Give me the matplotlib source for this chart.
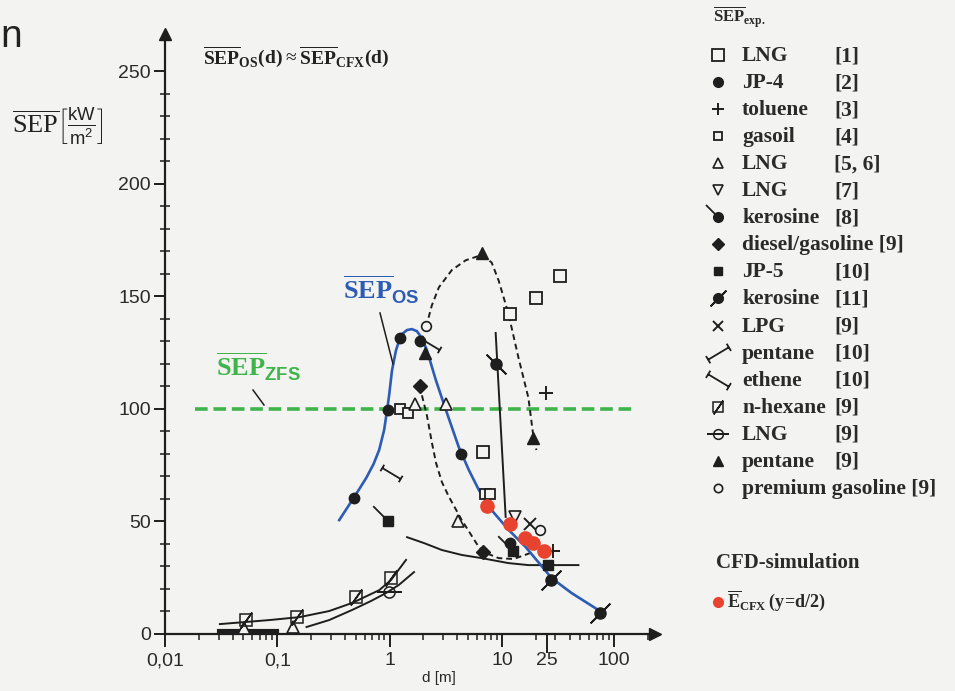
import numpy as np
import matplotlib
matplotlib.use('Agg')
import matplotlib.pyplot as plt
from matplotlib.path import Path
from matplotlib.ticker import FixedLocator, NullFormatter

plt.rcParams['font.family'] = ['Liberation Sans', 'DejaVu Sans']
plt.rcParams['mathtext.fontset'] = 'custom'
plt.rcParams['mathtext.rm'] = 'Liberation Serif'
plt.rcParams['mathtext.bf'] = 'Liberation Serif:bold'
plt.rcParams['mathtext.sf'] = 'Liberation Sans'
plt.rcParams['mathtext.cal'] = 'Liberation Sans:bold'

# ---- data ----
# SEP_OS model curve (blue)
os_d = [0.356, 0.484, 0.619, 0.72, 0.807, 0.894, 0.95, 0.99, 1.05, 1.14, 1.22, 1.29,
        1.43, 1.58, 1.75, 1.94, 2.15, 2.58, 3.17, 4.13, 5.08, 6.23, 8.1, 11.5, 16.3,
        22.9, 27.6, 41.7, 72]
os_sep = [50.6, 60.8, 69.3, 75.5, 81.7, 90.6, 99.5, 106, 117, 126, 130.5, 133.2,
          135, 135.4, 134.5, 131.4, 126, 112.8, 99.5, 83, 72.8, 64, 55, 46.2, 38.6,
          29.8, 24.9, 18.2, 10.7]
# SEP_ZFS (green, constant)
zfs_d = [0.0185, 153]
zfs_sep = [100, 100]
# dashed envelope curves
loop_d = [2.11, 2.38, 2.75, 3.58, 4.77, 6.6, 8.1, 9.35, 11.4, 14.0, 17.2, 19.1, 20.3]
loop_sep = [136.3, 146, 154, 161.6, 166, 168.3, 165, 157, 142.5, 123, 105, 87.5, 81.7]
fall_d = [1.94, 2.15, 2.38, 2.59, 2.92, 3.37, 4.39, 6.23, 7.18, 9.35, 12.7, 18.0]
fall_sep = [106, 97, 85, 76, 67.5, 61, 50.6, 38.6, 36, 33.7, 33.3, 36]
# solid fit curves
flat_d = [1.43, 2.02, 2.92, 4.39, 6.6, 11.4, 17.2, 24.4, 48]
flat_sep = [43, 40.4, 37.3, 35.1, 33.7, 31.5, 30.6, 30.6, 30.6]
vert_d = [8.8, 10.8]
vert_sep = [133.7, 52]
low1_d = [0.0308, 0.0854, 0.158, 0.29, 0.465, 0.81, 1.03, 1.40]
low1_sep = [4.4, 6.2, 7.5, 10.2, 13.8, 19.5, 24, 32.9]
low2_d = [0.182, 0.29, 0.465, 0.686, 0.93, 1.21, 1.65]
low2_sep = [3.1, 6.2, 10.7, 14.7, 18.2, 21.8, 27.5]
base_d = [0.03, 0.1]
base_sep = [1.5, 1.5]

# experimental points
lng1_d, lng1_sep = [33, 20, 11.8, 6.75], [159, 149, 142, 81]
jp4_d, jp4_sep = [0.484, 0.97, 1.25, 1.85, 4.3, 11.8], [60.5, 99.6, 131.5, 130, 80, 40.4]
tol_d, tol_sep = [24.7, 28.5], [107, 37]
gasoil_d, gasoil_sep = [1.25, 1.45, 7.0, 7.8], [100, 98, 62, 62]
lng56_d, lng56_sep = [1.67, 3.16, 4.05, 0.051, 0.137], [102, 102, 50, 2.7, 3.1]
lng7_d, lng7_sep = [13.1], [52]
ker8_d, ker8_sep = [0.96, 12.5], [50, 37]
diesel_d, diesel_sep = [1.85, 6.75], [110, 36.4]
jp5_d, jp5_sep = [25.7], [30.7]
ker11_d, ker11_sep = [8.8, 27.3, 75], [120, 24, 9.3]
lpg_d, lpg_sep = [17.8], [49]
pent10_d, pent10_sep = [2.3, 1.02], [129, 71.5]
hex_d, hex_sep = [0.053, 0.151, 0.505, 1.03], [6.2, 7.5, 16.4, 24.9]
lng9_d, lng9_sep = [0.99], [18.7]
pent9_d, pent9_sep = [2.05, 18.9, 6.6], [125, 87, 169]
prem_d, prem_sep = [2.1, 22], [137, 46]
cfx_d, cfx_sep = [7.35, 11.8, 16.0, 18.9, 23.6], [57, 49, 42.7, 40.4, 37]

x_ticks = [0.01, 0.1, 1, 10, 25, 100]
x_labels = ['0,01', '0,1', '1', '10', '25', '100']
y_ticks = [0, 50, 100, 150, 200, 250]

legend_rows = [('LNG', '[1]'), ('JP-4', '[2]'), ('toluene', '[3]'), ('gasoil', '[4]'),
               ('LNG', '[5, 6]'), ('LNG', '[7]'), ('kerosine', '[8]'),
               ('diesel/gasoline [9]', ''), ('JP-5', '[10]'), ('kerosine', '[11]'),
               ('LPG', '[9]'), ('pentane', '[10]'), ('ethene', '[10]'),
               ('n-hexane', '[9]'), ('LNG', '[9]'), ('pentane', '[9]'),
               ('premium gasoline [9]', '')]

# ---- custom markers ----
def ibeam(slope):
    u = np.array([1.0, slope]); u /= np.linalg.norm(u)
    p = np.array([-u[1], u[0]]) * 0.35
    a, b = -u, u
    verts = [a, b, a - p, a + p, b - p, b + p]
    codes = [Path.MOVETO, Path.LINETO] * 3
    return Path(verts, codes)

tail8 = Path([(0, 0), (-1, 1)], [Path.MOVETO, Path.LINETO])
ink = '#1e1e1e'
bg = '#f3f3f1'
blue = '#2c5cb4'
green = '#3fb44a'
red = '#e8432e'

fig = plt.figure(figsize=(9.55, 6.91), dpi=100, facecolor=bg)
W, H = 955.0, 691.0
ax = fig.add_axes([165 / W, 1 - 634 / H, 490 / W, 594 / H])
ax.set_facecolor('none')
ax.set_xscale('log')
ax.set_xlim(0.01, 10 ** (-2 + 490 / 112.3))
ax.set_ylim(0, 263.8)

# curves
ax.plot(zfs_d, zfs_sep, color=green, lw=2.6, ls=(0, (3.5, 1.6)), zorder=2)
ax.plot(os_d, os_sep, color=blue, lw=1.9, zorder=3)
ax.plot(loop_d, loop_sep, color=ink, lw=1.4, ls=(0, (3, 2)), zorder=2)
ax.plot(fall_d, fall_sep, color=ink, lw=1.4, ls=(0, (3, 2)), zorder=2)
ax.plot(flat_d, flat_sep, color=ink, lw=1.4, zorder=2)
ax.plot(vert_d, vert_sep, color=ink, lw=1.4, zorder=2)
ax.plot(low1_d, low1_sep, color=ink, lw=1.4, zorder=2)
ax.plot(low2_d, low2_sep, color=ink, lw=1.4, zorder=2)
ax.plot(base_d, base_sep, color=ink, lw=3, zorder=2)

mk = dict(ls='none', color=ink, zorder=4)
ax.plot(lng1_d, lng1_sep, marker='s', ms=9, mfc=bg, mew=1.3, **mk)
ax.plot(gasoil_d, gasoil_sep, marker='s', ms=6.5, mfc=bg, mew=1.3, **mk)
ax.plot(jp4_d, jp4_sep, marker='o', ms=7.5, **mk)
ax.plot(tol_d, tol_sep, marker='+', ms=10, mew=1.4, **mk)
ax.plot(lng56_d, lng56_sep, marker='^', ms=8, mfc=bg, mew=1.2, **mk)
ax.plot(lng7_d, lng7_sep, marker='v', ms=9, mfc=bg, mew=1.2, **mk)
ax.plot(ker8_d, ker8_sep, marker='s', ms=7, **mk)
ax.plot(ker8_d, ker8_sep, marker=tail8, ms=22, mew=1.3, **mk)
ax.plot(diesel_d, diesel_sep, marker='D', ms=7, **mk)
ax.plot(jp5_d, jp5_sep, marker='s', ms=7, **mk)
ax.plot(ker11_d, ker11_sep, marker='o', ms=8, **mk)
for d, s, ang in zip(ker11_d, ker11_sep, [45, -45, -45]):
    ax.plot([d], [s], marker=(2, 2, ang), ms=20, mew=1.3, **mk)
ax.plot(lpg_d, lpg_sep, marker='x', ms=8, mew=1.4, **mk)
ax.plot(pent10_d, pent10_sep, marker=ibeam(-0.6), ms=16, mfc='none', mew=1.3, **mk)
ax.plot(hex_d, hex_sep, marker='s', ms=8, mfc='none', mew=1.1, **mk)
ax.plot(hex_d, hex_sep, marker=(2, 2, -35), ms=14, mew=1.2, **mk)
ax.plot(lng9_d, lng9_sep, marker='o', ms=8, mfc='none', mew=1.1, **mk)
ax.plot(lng9_d, lng9_sep, marker=(2, 2, 90), ms=18, mew=1.2, **mk)
ax.plot(pent9_d, pent9_sep, marker='^', ms=8, **mk)
ax.plot(prem_d, prem_sep, marker='o', ms=7, mfc=bg, mew=1.2, **mk)
ax.plot(cfx_d, cfx_sep, ls='none', marker='o', ms=9.5, color=red, zorder=5)

# axes styling
for s in ['top', 'right']:
    ax.spines[s].set_visible(False)
for s in ['left', 'bottom']:
    ax.spines[s].set_linewidth(1.6)
    ax.spines[s].set_color(ink)
ax.plot(1.0, 0, '>', transform=ax.transAxes, clip_on=False, color=ink, ms=9)
ax.plot(0, 1.01, '^', transform=ax.transAxes, clip_on=False, color=ink, ms=9)

ax.xaxis.set_major_locator(FixedLocator(x_ticks))
ax.set_xticklabels(x_labels)
ax.xaxis.set_minor_locator(FixedLocator(
    [m * 10.0 ** e for e in range(-2, 3) for m in range(2, 10)]))
ax.xaxis.set_minor_formatter(NullFormatter())
ax.set_yticks(y_ticks)
ax.yaxis.set_minor_locator(FixedLocator(np.arange(10, 260, 10)))
ax.tick_params(axis='x', which='major', direction='out', length=9, width=1.4,
               color=ink, labelsize=14, labelcolor='#2a2a2a', pad=4)
ax.tick_params(axis='x', which='minor', direction='out', length=4, width=1.1, color=ink)
ax.tick_params(axis='y', which='major', direction='out', length=8, width=1.4,
               color=ink, labelsize=14, labelcolor='#2a2a2a', pad=2)
ax.tick_params(axis='y', which='minor', direction='inout', length=7, width=1.1, color=ink)
ax.xaxis.get_major_ticks()[4].tick1line.set_markersize(14)

# annotations inside the plot
def fx(px):
    return px / W

def fy(py):
    return 1 - py / H

fig.text(fx(0), fy(47), 'n', fontsize=28, color='#222222', ha='left', va='baseline')
fig.text(fx(12), fy(126),
         r'$\overline{\mathrm{SEP}}\left[\frac{\mathsf{kW}}{\mathsf{m}^{\mathsf{2}}}\right]$',
         fontsize=19, color='#222222', ha='left', va='center')
fig.text(fx(203), fy(63),
         r'$\overline{\mathbf{SEP}}_{\mathbf{OS}}\mathbf{(d)}\approx'
         r'\overline{\mathbf{SEP}}_{\mathbf{CFX}}\mathbf{(d)}$',
         fontsize=14, color='#222222', ha='left', va='baseline')
fig.text(fx(343), fy(300), r'$\overline{\mathbf{SEP}}_{\mathcal{OS}}$',
         fontsize=19, color=blue, ha='left', va='baseline')
fig.text(fx(216), fy(377), r'$\overline{\mathbf{SEP}}_{\mathcal{ZFS}}$',
         fontsize=19, color=green, ha='left', va='baseline')
fig.lines.append(plt.Line2D([fx(380), fx(393)], [fy(313), fy(364)],
                            color=ink, lw=1.1, transform=fig.transFigure))
fig.lines.append(plt.Line2D([fx(253), fx(264)], [fy(390), fy(405)],
                            color=ink, lw=1.1, transform=fig.transFigure))
fig.text(fx(422), fy(682), 'd [m]', fontsize=11, color='#2a2a2a', ha='left', va='baseline')

# legend column
lax = fig.add_axes([0, 0, 1, 1], facecolor='none')
lax.set_xlim(0, W)
lax.set_ylim(H, 0)
lax.axis('off')
serif = dict(family=['Liberation Serif', 'DejaVu Serif'], fontweight='bold',
             color='#2a2a2a')
lax.text(713, 22, r'$\overline{\mathbf{SEP}}_{\mathbf{exp.}}$', fontsize=12,
         color='#2a2a2a', va='baseline')
legend_marks = [
    [dict(marker='s', ms=8, mfc=bg, mew=1.3)],
    [dict(marker='o', ms=7)],
    [dict(marker='+', ms=9, mew=1.4)],
    [dict(marker='s', ms=6, mfc=bg, mew=1.3)],
    [dict(marker='^', ms=7.5, mfc=bg, mew=1.2)],
    [dict(marker='v', ms=7.5, mfc=bg, mew=1.2)],
    [dict(marker='o', ms=7), dict(marker=tail8, ms=18, mew=1.3)],
    [dict(marker='D', ms=6.5)],
    [dict(marker='s', ms=6)],
    [dict(marker='o', ms=7), dict(marker=(2, 2, -45), ms=16, mew=1.3)],
    [dict(marker='x', ms=7, mew=1.4)],
    [dict(marker=ibeam(0.6), ms=18, mfc='none', mew=1.3)],
    [dict(marker=ibeam(-0.6), ms=18, mfc='none', mew=1.3)],
    [dict(marker='s', ms=7, mfc='none', mew=1.1), dict(marker=(2, 2, -35), ms=12, mew=1.2)],
    [dict(marker='o', ms=7, mfc='none', mew=1.1), dict(marker=(2, 2, 90), ms=16, mew=1.2)],
    [dict(marker='^', ms=7.5)],
    [dict(marker='o', ms=6, mfc=bg, mew=1.2)],
]
for i, ((name, ref), marks) in enumerate(zip(legend_rows, legend_marks)):
    yy = 55 + 27.05 * i
    for m in marks:
        lax.plot([718], [yy], ls='none', color=ink, clip_on=False, **m)
    lax.text(742, yy + 6, name, fontsize=15.5, va='baseline', **serif)
    if ref:
        lax.text(834, yy + 6, ref, fontsize=15.5, va='baseline', **serif)

lax.text(716, 568, 'CFD-simulation', fontsize=15, va='baseline', **serif)
lax.plot([718], [602], ls='none', marker='o', ms=7, color=red, clip_on=False)
lax.text(727, 607, r'$\overline{\mathbf{E}}_{\mathbf{CFX}}\,\mathbf{(y\!=\!d/2)}$',
         fontsize=13, color='#2a2a2a', va='baseline')

fig.savefig('out.png', dpi=100, facecolor=bg)
